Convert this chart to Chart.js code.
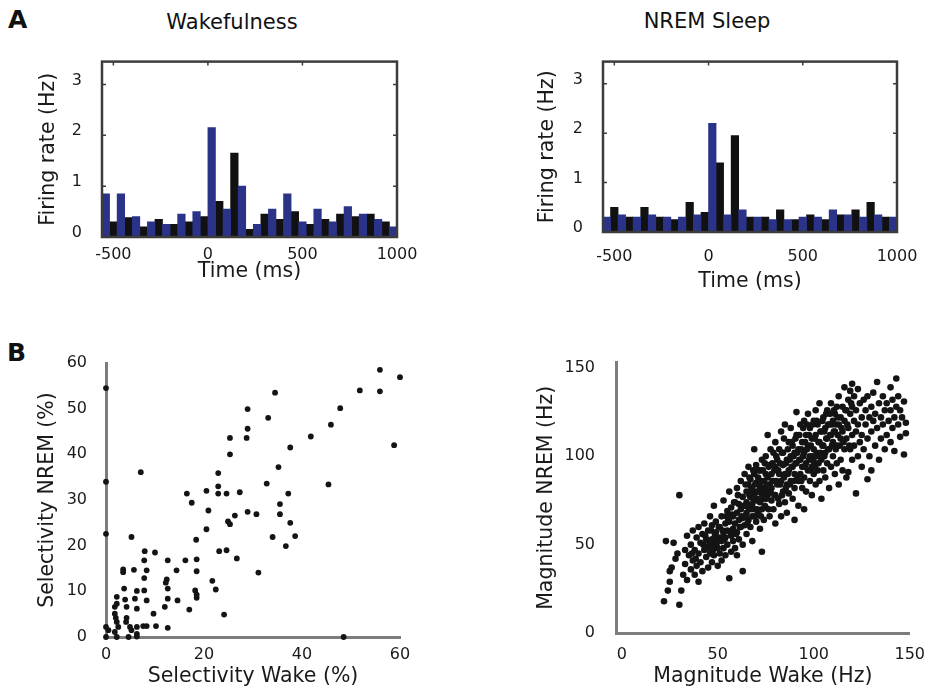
<!DOCTYPE html>
<html>
<head>
<meta charset="utf-8">
<script src="https://cdn.jsdelivr.net/npm/chart.js@4.4.1/dist/chart.umd.min.js"></script>
<style>
  body { margin: 0; background: #fff; font-family: "DejaVu Sans", sans-serif; }
  #page { position: relative; width: 929px; height: 690px; overflow: hidden; }
  canvas, .txt { position: absolute; }
  .txt { color: #111; white-space: nowrap; line-height: 24px; }
  .panel { font-weight: bold; font-size: 25px; line-height: 28px; }
  .title { font-size: 21px; width: 200px; text-align: center; }
</style>
</head>
<body>
<div id="page">
  <div class="txt panel" style="left:8px; top:6px;">A</div>
  <div class="txt panel" style="left:7px; top:339px;">B</div>
  <div class="txt title" style="left:132px; top:10px;">Wakefulness</div>
  <div class="txt title" style="left:607px; top:9px;">NREM Sleep</div>
  <canvas id="wake" width="470" height="260" style="left:0; top:40px;"></canvas>
  <canvas id="nrem" width="459" height="260" style="left:470px; top:40px;"></canvas>
  <canvas id="selectivity" width="470" height="350" style="left:0; top:340px;"></canvas>
  <canvas id="magnitude" width="459" height="350" style="left:470px; top:340px;"></canvas>
</div>
<script>
// histogram bins (ms, bin centres, 80 ms wide; blue = left half, black = right half)
const binCenters = [-520, -440, -360, -280, -200, -120, -40, 40, 120, 200, 280, 360, 440, 520, 600, 680, 760, 840, 920, 1000];
const wakeBlue  = [0.85, 0.85, 0.4, 0.3, 0.25, 0.45, 0.5, 2.15, 0.55, 1.0, 0.25, 0.55, 0.85, 0.3, 0.55, 0.3, 0.6, 0.45, 0.35, 0.2];
const wakeBlack = [0.3, 0.38, 0.2, 0.35, 0.25, 0.3, 0.4, 0.7, 1.65, 0.15, 0.45, 0.35, 0.5, 0.25, 0.35, 0.45, 0.4, 0.45, 0.3, 0.2];
const nremBlue  = [0.3, 0.35, 0.3, 0.35, 0.3, 0.3, 0.35, 2.2, 0.35, 0.45, 0.3, 0.25, 0.25, 0.3, 0.3, 0.45, 0.35, 0.3, 0.35, 0.3];
const nremBlack = [0.5, 0.3, 0.5, 0.3, 0.25, 0.6, 0.4, 1.4, 1.95, 0.3, 0.3, 0.45, 0.25, 0.35, 0.25, 0.35, 0.45, 0.6, 0.3, 0.3];

const timeTicks = [-500, 0, 500, 1000];
const rateTicks = [0, 1, 2, 3];
const selWakeTicks = [0, 20, 40, 60];
const selNremTicks = [0, 10, 20, 30, 40, 50, 60];
const magTicks = [0, 50, 100, 150];

// [wake, nrem] selectivity (%)
const selectivity = [
  [0,54.5],[0,34],[0,22.6],[0,2.2],[0,0],[55.9,58.5],[60,56.9],[51.8,54],[55.9,53.8],[34.5,53.5],
  [28.9,49.9],[47.8,50.1],[33.1,48],[45.9,46.5],[28.9,45.6],[25.3,43.6],[28.7,43.6],[41.8,43.9],[58.8,42],[37.6,41.5],
  [25.3,40],[7.1,36.1],[22.9,35.9],[22.9,33],[32.8,33.6],[45.4,33.4],[35.2,37.2],[16.5,31.4],[20.5,32],[22.9,31.4],
  [24.6,31.4],[27.3,31.7],[37.2,31.4],[17.5,29.4],[35.5,29.1],[20.9,27.7],[28.9,27.4],[26.3,26.6],[30.7,26.9],[35.5,26.9],
  [24.9,25.3],[25.3,24.7],[37.6,25],[20.5,23.6],[34,21.9],[38.6,22.1],[5.2,21.9],[18.4,21.3],[36.7,19.9],[7.9,18.8],
  [10,18.5],[23.1,18.8],[24.6,19],[7.8,16.8],[12.6,16.8],[16.2,16.8],[18.5,17],[26.7,17.2],[3.5,14.8],[3.5,14.2],
  [5.7,14.7],[8.3,14.6],[14.4,14.6],[18.5,14.4],[31.1,14.1],[7.8,12.9],[12.4,12.6],[12.2,11.9],[21.7,12.3],[3.7,10.6],
  [6.3,10.1],[7.8,10.2],[12.6,10.6],[18.2,10.2],[18.5,9.3],[22.4,10.4],[3.9,8.2],[2.2,8.8],[5.9,8.4],[8.3,8],[12.6,8.4],
  [14.6,8],[18.5,8.6],[1.8,6.6],[2.2,7.3],[4.2,6.6],[6.3,6.2],[12,6.6],[17,6],[1.8,5.1],[2,4.2],
  [4.2,4.2],[9.7,5.1],[24.1,4.9],[2.2,3.3],[4.1,3.3],[2.5,2.2],[4.9,2.2],[6.3,2.2],[7.6,2.4],[8.3,2.4],
  [10.2,2.4],[12.6,2],[0.5,1.5],[1.8,1.1],[5.2,1.5],[6.3,0.7],[2.2,0],[4.6,0],[6.3,0.1],[48.5,0]
];

// [wake, nrem] magnitude (Hz)
const magnitude = [
  [22,18],[23,52],[24,24],[25,29],[25,35],[26,37],[27,51],[28,42],[29,45],[30,78],[30,16],[31,24],[32,33],[33,47],[33,39],[34,30],[34,55],
  [35,44],[36,50],[36,36],[37,58],[37,41],[38,33],[38,47],[39,54],[39,38],[40,60],[40,45],[40,29],[41,51],[41,40],[42,56],[42,35],
  [43,62],[43,47],[44,43],[44,53],[45,37],[45,58],[45,49],[46,66],[46,45],[47,53],[47,40],[47,61],[48,50],[48,72],[48,44],[49,57],
  [49,63],[50,48],[50,38],[50,54],
  [51,60],[51,45],[52,66],[52,52],[52,41],[53,57],[53,75],[53,48],[54,62],[54,54],[54,44],[55,69],[55,58],[55,50],[56,63],[56,80],
  [56,31],[57,55],[57,71],[57,46],[58,66],[58,59],[58,52],[59,74],[59,62],[59,48],[60,68],[60,57],[60,82],[60,44],[61,64],[61,73],
  [61,53],[62,70],[62,60],[62,86],[63,77],[63,65],[63,50],[63,35],[64,72],[64,61],[64,90],[65,80],[65,68],[65,56],[65,74],
  [66,84],[66,64],[66,71],[66,94],[67,77],[67,60],[67,87],[68,73],[68,81],[68,66],[68,52],[69,104],[69,78],[69,70],[69,90],[70,85],
  [70,75],[70,63],[70,95],[71,80],[71,68],[71,88],[72,74],[72,92],[72,59],[72,83],[73,46],[73,79],[73,98],[73,70],[74,86],[74,76],
  [74,64],[75,90],[75,81],[75,71],[75,100],[76,112],[76,78],[76,88],[77,84],[77,66],[77,95],[78,75],[78,90],[78,82],[79,70],[79,102],
  [79,86],[80,94],[80,78],[80,62],[80,108],
  [81,84],[81,98],[82,73],[82,90],[82,104],[83,86],[83,66],[83,114],[84,95],[84,80],[84,102],[85,90],[85,74],[85,118],[86,98],[86,84],
  [86,68],[87,108],[87,92],[87,79],[88,100],[88,86],[88,116],[89,94],[89,76],[89,106],[90,90],[90,102],[90,82],[90,64],[91,112],[91,96],
  [91,125],[92,86],[92,104],[92,72],[93,98],[93,118],[93,90],[94,108],[94,82],[94,94],[95,102],[95,120],[95,88],[95,70],[96,112],[96,96],
  [96,80],[97,106],[97,92],[97,124],[98,100],[98,86],[98,116],[99,110],[99,94],[99,78],[100,104],[100,90],[100,120],[100,97],
  [101,112],[101,84],[101,126],[102,100],[102,118],[102,92],[103,108],[103,130],[103,86],[104,114],[104,98],[104,76],[105,106],[105,122],
  [105,92],[106,116],[106,102],[106,88],[107,126],[107,110],[107,96],[108,118],[108,82],[108,104],[109,112],[109,130],[109,94],[110,120],
  [110,100],[110,108],[111,124],[111,90],[111,114],[112,106],[112,128],[112,96],[113,118],[113,84],[113,134],[114,110],[114,122],[114,98],
  [115,128],[115,92],[115,114],[116,139],[116,104],[116,120],[117,110],[117,126],[117,88],[118,132],[118,91],[118,116],[119,124],[119,104],
  [119,137],[120,112],[120,141],[120,98],[120,128],
  [121,120],[121,106],[121,134],[122,79],[122,114],[122,126],[123,100],[123,138],[123,118],[124,108],[124,130],[125,122],[125,94],[125,112],
  [126,132],[126,104],[127,118],[127,126],[128,87],[128,110],[128,134],[129,122],[129,100],[130,128],[130,114],[130,92],[131,120],[131,136],
  [132,106],[132,124],[133,142],[133,116],[134,130],[134,98],[135,122],[135,110],[136,134],[136,118],[137,104],[137,126],[138,130],[138,112],
  [139,120],[140,139],[140,108],[140,126],[141,132],[141,116],[142,122],[142,103],[143,128],[144,118],[144,134],[145,126],[145,111],[146,122],
  [147,131],[147,101],[148,113],[148,119],[143,144],
  [55.5,64],[56.5,57],[57.5,67],[58.5,74],[59.5,56],[60.5,78],[61.5,60],[62.5,66],[63.5,72],[64.5,84],[64.5,66],[65.5,62],[66.5,78],
  [66.5,88],[67.5,70],[67.5,82],[68.5,76],[68.5,92],[69.5,66],[69.5,84],[70.5,80],[70.5,70],[71.5,92],[71.5,76],[72.5,86],[72.5,66],
  [73.5,82],[73.5,92],[74.5,72],[74.5,96],[75.5,84],[75.5,76],[76.5,94],[76.5,70],[77.5,80],[77.5,104],[78.5,86],[78.5,96],[79.5,78],
  [79.5,92],[80.5,86],[80.5,100],[81.5,76],[81.5,92],[82.5,96],[82.5,84],[83.5,102],[83.5,78],[84.5,88],[84.5,110],[85.5,96],[85.5,82],
  [86.5,104],[86.5,90],[87.5,84],[87.5,98],[88.5,94],[88.5,108],[89.5,86],[89.5,100],[90.5,96],[90.5,110],[91.5,88],[91.5,102],[92.5,98],
  [92.5,112],[93.5,104],[93.5,86],[94.5,100],[94.5,116],[95.5,94],[95.5,108],[96.5,104],[96.5,118],[97.5,98],[97.5,112],[98.5,106],
  [98.5,92],[99.5,100],[99.5,118],[100.5,110],[100.5,94],[101.5,102],[101.5,120],[102.5,108],[102.5,96],[103.5,114],[103.5,102],
  [104.5,120],[104.5,106],[105.5,100],[105.5,114],[106.5,110],[106.5,124],[107.5,104],[107.5,118],[108.5,112],[108.5,124],[109.5,106],
  [109.5,118],[110.5,114],[110.5,126],[111.5,104],[111.5,118],[112.5,112],[112.5,122],[113.5,106],[114.5,116],[115.5,108],[116.5,126],
  [117.5,118],[118.5,106],[119.5,130],[45.5,52],[46.5,58],[47.5,47],[48.5,56],[49.5,51],[50.5,60],[51.5,54],[52.5,58],[53.5,53],
  [54.5,66],[42.5,50],[43.5,55],[44.5,48],[38.5,42],[36.5,45]
];

Chart.defaults.font.family = "'DejaVu Sans', sans-serif";
Chart.defaults.color = '#1a1a1a';

const tickFont = { size: 16 };
const titleFont = { size: 20.5 };

const fixedTicks = list => scale => {
  scale.ticks = list.map(v => ({ value: v }));
};
const plain = v => String(v);

// box around the histograms, with small inward tick marks
const frame = {
  id: 'frame',
  afterDatasetsDraw(chart) {
    const { ctx, chartArea: a, scales } = chart;
    ctx.save();
    ctx.strokeStyle = '#3c3c3c';
    ctx.lineWidth = 1.5;
    ctx.beginPath();
    timeTicks.forEach(v => {
      const x = scales.x.getPixelForValue(v);
      ctx.moveTo(x, a.top); ctx.lineTo(x, a.top + 4);
    });
    rateTicks.forEach(v => {
      const y = scales.y.getPixelForValue(v);
      ctx.moveTo(a.left, y); ctx.lineTo(a.left + 4, y);
      ctx.moveTo(a.right, y); ctx.lineTo(a.right - 4, y);
    });
    ctx.stroke();
    ctx.lineWidth = 2.5;
    ctx.strokeRect(a.left, a.top, a.right - a.left, a.bottom - a.top);
    ctx.restore();
  }
};

const drawHistogram = (id, blue, black, box) => {
  const ctx = document.getElementById(id).getContext('2d');
  new Chart(ctx, {
    type: 'bar',
    data: {
      datasets: [
        { label: 'blue', data: binCenters.map((t, i) => ({ x: t, y: blue[i] })), backgroundColor: '#2a3388' },
        { label: 'black', data: binCenters.map((t, i) => ({ x: t, y: black[i] })), backgroundColor: '#111111' }
      ]
    },
    options: {
      responsive: false,
      animation: false,
      layout: { padding: { top: box.top, right: box.right, left: 0, bottom: 0 } },
      datasets: { bar: { barPercentage: 1, categoryPercentage: 1, borderWidth: 0, clip: 0 } },
      plugins: { legend: { display: false }, tooltip: { enabled: false } },
      scales: {
        x: {
          type: 'linear', min: -560, max: 1000, offset: false,
          afterBuildTicks: fixedTicks(timeTicks),
          afterFit: s => { s.height = box.xh; },
          grid: { display: false }, border: { display: false },
          ticks: { font: tickFont, padding: box.xpad, maxRotation: 0, callback: plain },
          title: { display: true, text: 'Time (ms)', font: titleFont, padding: { top: 0, bottom: box.xtitle } }
        },
        y: {
          min: 0, max: 3.45,
          afterBuildTicks: fixedTicks(rateTicks),
          afterFit: s => { s.width = box.yw; },
          grid: { display: false }, border: { display: false },
          ticks: { font: tickFont, padding: box.ypad, labelOffset: -4, callback: plain },
          title: { display: true, text: 'Firing rate (Hz)', font: titleFont, padding: { top: box.ytitle, bottom: 0 } }
        }
      }
    },
    plugins: [frame]
  });
};

const drawScatter = (id, points, box) => {
  const ctx = document.getElementById(id).getContext('2d');
  const axisLine = { display: true, color: '#7d7d7d', width: 3 };
  new Chart(ctx, {
    type: 'scatter',
    data: {
      datasets: [{
        data: points.map(p => ({ x: p[0], y: p[1] })),
        backgroundColor: '#141414', borderWidth: 0, pointRadius: box.r, clip: false
      }]
    },
    options: {
      responsive: false,
      animation: false,
      layout: { padding: { top: box.top, right: box.right, left: 0, bottom: 0 } },
      plugins: { legend: { display: false }, tooltip: { enabled: false } },
      scales: {
        x: {
          type: 'linear', min: box.xmin, max: box.xmax,
          afterBuildTicks: fixedTicks(box.xticks),
          afterFit: s => { s.height = box.xh; },
          grid: { display: false }, border: axisLine,
          ticks: { font: tickFont, padding: box.xpad, maxRotation: 0, callback: plain },
          title: { display: true, text: box.xlabel, font: titleFont, padding: { top: 0, bottom: box.xtitle } }
        },
        y: {
          min: 0, max: box.ymax,
          afterBuildTicks: fixedTicks(box.yticks),
          afterFit: s => { s.width = box.yw; },
          grid: { display: false }, border: axisLine,
          ticks: { font: tickFont, padding: box.ypad, callback: plain },
          title: { display: true, text: box.ylabel, font: titleFont, padding: { top: box.ytitle, bottom: 0 } }
        }
      }
    }
  });
};

drawHistogram('wake', wakeBlue, wakeBlack, { top: 17, right: 73, yw: 102, xh: 63, xpad: 0, ypad: 12, ytitle: 36, xtitle: 16 });
drawHistogram('nrem', nremBlue, nremBlack, { top: 15, right: 32, yw: 133, xh: 68, xpad: 7, ypad: 12, ytitle: 65, xtitle: 6 });

drawScatter('selectivity', selectivity, {
  top: 23, right: 70, yw: 106, xh: 53, xpad: 0, ypad: 11, ytitle: 35, xtitle: 1, r: 2.9,
  xmin: 0, xmax: 60, ymax: 60, xticks: selWakeTicks, yticks: selNremTicks,
  xlabel: 'Selectivity Wake (%)', ylabel: 'Selectivity NREM (%)'
});
drawScatter('magnitude', magnitude, {
  top: 16, right: 19, yw: 146, xh: 57, xpad: 4, ypad: 13, ytitle: 64, xtitle: 1, r: 3.3,
  xmin: -3, xmax: 150, ymax: 153, xticks: magTicks, yticks: magTicks,
  xlabel: 'Magnitude Wake (Hz)', ylabel: 'Magnitude NREM (Hz)'
});
</script>
</body>
</html>
